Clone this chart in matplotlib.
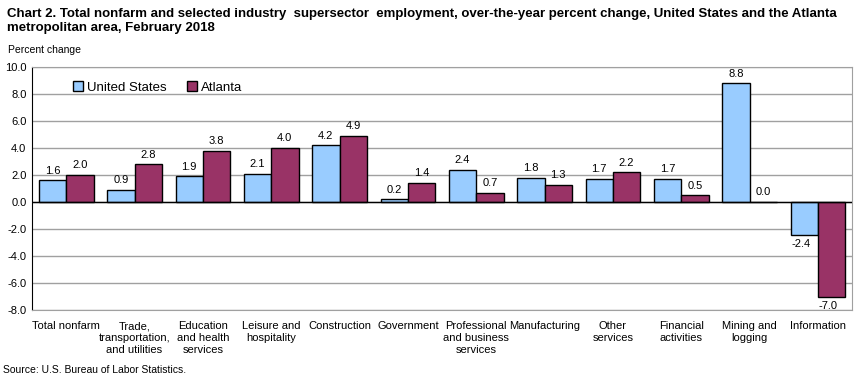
import matplotlib.pyplot as plt
import numpy as np

plt.rcParams['font.family'] = ['Liberation Sans', 'DejaVu Sans']

# data
categories = ["Total nonfarm", "Trade,\ntransportation,\nand utilities",
              "Education\nand health\nservices", "Leisure and\nhospitality",
              "Construction", "Government", "Professional\nand business\nservices",
              "Manufacturing", "Other\nservices", "Financial\nactivities",
              "Mining and\nlogging", "Information"]
us_values = [1.6, 0.9, 1.9, 2.1, 4.2, 0.2, 2.4, 1.8, 1.7, 1.7, 8.8, -2.4]
atl_values = [2.0, 2.8, 3.8, 4.0, 4.9, 1.4, 0.7, 1.3, 2.2, 0.5, 0.0, -7.0]
yticks = [-8, -6, -4, -2, 0, 2, 4, 6, 8, 10]

fig = plt.figure(figsize=(8.65, 3.81), dpi=100)
ax = fig.add_axes([0.037, 0.186, 0.948, 0.638])

x = np.arange(len(categories))
w = 0.4
b1 = ax.bar(x - w/2, us_values, w, color='#99CCFF', edgecolor='black', linewidth=1,
            label='United States', zorder=3)
b2 = ax.bar(x + w/2, atl_values, w, color='#993366', edgecolor='black', linewidth=1,
            label='Atlanta', zorder=3)

# value labels
for bars, vals in ((b1, us_values), (b2, atl_values)):
    for r, v in zip(bars, vals):
        cx = r.get_x() + r.get_width()/2
        if v >= 0:
            ax.text(cx, v + 0.35, f"{v:.1f}", ha='center', va='bottom', fontsize=8)
        else:
            ax.text(cx - 0.05, v - 0.35, f"{v:.1f}", ha='center', va='top', fontsize=8)

ax.set_xlim(-0.5, len(categories) - 0.5)
ax.set_ylim(-8, 10)
ax.set_yticks(yticks)
ax.set_yticklabels([f"{t:.1f}" for t in yticks], fontsize=8)
ax.set_xticks(x)
ax.set_xticklabels(categories, fontsize=8, linespacing=1.25)
ax.tick_params(axis='x', length=0, pad=8)
ax.tick_params(axis='y', length=0, pad=4)
ax.grid(axis='y', color='#A0A0A0', linewidth=1, zorder=0)
ax.axhline(0, color='black', linewidth=1, zorder=4)

for s in ('top', 'right', 'bottom'):
    ax.spines[s].set_color('#A0A0A0')
ax.spines['left'].set_color('black')

ax.legend(loc='upper left', bbox_to_anchor=(0.035, 0.99), ncol=2, frameon=False,
          fontsize=9.5, handlelength=0.8, handleheight=0.8, handletextpad=0.3,
          columnspacing=1.5)

fig.text(0.008, 0.978, "Chart 2. Total nonfarm and selected industry  supersector  employment, over-the-year percent change, United States and the Atlanta\nmetropolitan area, February 2018",
         fontsize=9.55, fontweight='bold', va='top', ha='left', linespacing=1.15)
fig.text(0.009, 0.855, "Percent change", fontsize=7.5, va='bottom', ha='left')
fig.text(0.004, 0.015, "Source: U.S. Bureau of Labor Statistics.", fontsize=7.5, va='bottom', ha='left')

fig.savefig('out.png', dpi=100)
